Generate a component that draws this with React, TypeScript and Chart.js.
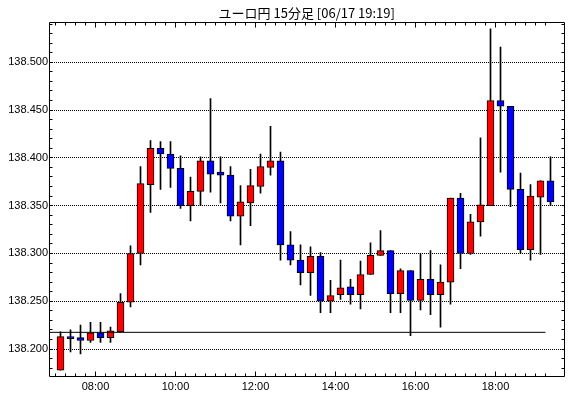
import React, { useEffect, useRef } from 'react';
import { Chart, registerables } from 'chart.js';

Chart.register(...registerables);

const TITLE = 'ユーロ円 15分足 [06/17 19:19]';

const CANDLE_TIMES = [
  '07:00', '07:15', '07:30', '07:45', '08:00', '08:15', '08:30', '08:45',
  '09:00', '09:15', '09:30', '09:45', '10:00', '10:15', '10:30', '10:45',
  '11:00', '11:15', '11:30', '11:45', '12:00', '12:15', '12:30', '12:45',
  '13:00', '13:15', '13:30', '13:45', '14:00', '14:15', '14:30', '14:45',
  '15:00', '15:15', '15:30', '15:45', '16:00', '16:15', '16:30', '16:45',
  '17:00', '17:15', '17:30', '17:45', '18:00', '18:15', '18:30', '18:45',
  '19:00', '19:15',
];

const OPEN = [
  138.178, 138.213, 138.212, 138.209, 138.217, 138.212, 138.218, 138.249,
  138.300, 138.372, 138.410, 138.404, 138.389, 138.350, 138.365, 138.397,
  138.385, 138.382, 138.339, 138.353, 138.370, 138.390, 138.397, 138.309,
  138.293, 138.280, 138.297, 138.250, 138.257, 138.265, 138.257, 138.278,
  138.298, 138.303, 138.258, 138.282, 138.251, 138.273, 138.257, 138.270,
  138.358, 138.300, 138.333, 138.350, 138.460, 138.454, 138.367, 138.304,
  138.359, 138.376,
];
const HIGH = [
  138.218, 138.220, 138.225, 138.228, 138.228, 138.223, 138.258, 138.308,
  138.391, 138.418, 138.417, 138.417, 138.402, 138.380, 138.401, 138.462,
  138.401, 138.391, 138.371, 138.388, 138.404, 138.433, 138.406, 138.323,
  138.309, 138.307, 138.301, 138.272, 138.293, 138.273, 138.292, 138.311,
  138.324, 138.303, 138.284, 138.282, 138.300, 138.303, 138.288, 138.358,
  138.363, 138.341, 138.421, 138.535, 138.516, 138.454, 138.384, 138.372,
  138.376, 138.401,
];
const LOW = [
  138.178, 138.197, 138.195, 138.207, 138.207, 138.207, 138.218, 138.244,
  138.288, 138.343, 138.367, 138.369, 138.347, 138.334, 138.350, 138.364,
  138.353, 138.334, 138.309, 138.329, 138.363, 138.382, 138.293, 138.288,
  138.267, 138.256, 138.238, 138.238, 138.252, 138.247, 138.242, 138.278,
  138.298, 138.238, 138.238, 138.214, 138.241, 138.236, 138.223, 138.247,
  138.284, 138.299, 138.318, 138.350, 138.385, 138.349, 138.300, 138.293,
  138.299, 138.350,
];
const CLOSE = [
  138.213, 138.211, 138.209, 138.217, 138.212, 138.219, 138.249, 138.300,
  138.373, 138.410, 138.404, 138.389, 138.350, 138.365, 138.397, 138.383,
  138.382, 138.339, 138.354, 138.371, 138.391, 138.397, 138.309, 138.293,
  138.280, 138.297, 138.250, 138.256, 138.264, 138.257, 138.278, 138.298,
  138.303, 138.258, 138.282, 138.251, 138.273, 138.257, 138.270, 138.358,
  138.300, 138.333, 138.351, 138.460, 138.454, 138.367, 138.304, 138.360,
  138.376, 138.354,
];

const X_TICK_LABELS = ['08:00', '10:00', '12:00', '14:00', '16:00', '18:00'];
const Y_TICK_LABELS = ['138.200', '138.250', '138.300', '138.350', '138.400', '138.450', '138.500'];

const REF_LEVEL = 138.2175;
const REF_LINE_END_TIME = '19:15';

const Y_MIN = 138.1713;
const Y_MAX = 138.5417;
const X_MIN = -1.15;
const X_MAX = 50.4;

const UP_COLOR = '#ff0000';
const DOWN_COLOR = '#0000ff';

const TICK_FONT = { family: '"Liberation Sans", Arial, sans-serif', size: 11 };

const framePlugin = {
  id: 'frameTicks',
  beforeDatasetsDraw(chart: any) {
    const { ctx, chartArea, scales } = chart;
    const y = scales.y;
    ctx.save();
    ctx.strokeStyle = '#000';
    ctx.lineWidth = 1;
    ctx.setLineDash([1, 1]);
    y.ticks.forEach((t: any) => {
      if (!Y_TICK_LABELS.includes(t.value.toFixed(3))) return;
      const py = Math.round(y.getPixelForValue(t.value) - 0.5) + 0.5;
      ctx.beginPath();
      ctx.moveTo(Math.floor(chartArea.left) + 1, py);
      ctx.lineTo(Math.floor(chartArea.right), py);
      ctx.stroke();
    });
    ctx.restore();
  },
  afterDraw(chart: any) {
    const { ctx, chartArea, scales } = chart;
    const { x, y } = scales;
    const L = Math.floor(chartArea.left) + 0.5;
    const R = Math.floor(chartArea.right) + 0.5;
    const T = Math.floor(chartArea.top) + 0.5;
    const B = Math.floor(chartArea.bottom) + 0.5;
    ctx.save();
    ctx.strokeStyle = '#000';
    ctx.lineWidth = 1;
    ctx.setLineDash([]);
    ctx.beginPath();
    ctx.rect(L, T, R - L, B - T);
    ctx.stroke();
    ctx.beginPath();
    x.ticks.forEach((t: any, i: number) => {
      const px = Math.round(x.getPixelForValue(t.value) - 0.5) + 0.5;
      const major = X_TICK_LABELS.includes(CANDLE_TIMES[i]);
      const len = major ? 5 : 3;
      ctx.moveTo(px, B);
      ctx.lineTo(px, B - len);
      ctx.moveTo(px, T);
      ctx.lineTo(px, T + len);
    });
    y.ticks.forEach((t: any) => {
      const py = Math.round(y.getPixelForValue(t.value) - 0.5) + 0.5;
      ctx.moveTo(L, py);
      ctx.lineTo(L + 3, py);
      ctx.moveTo(R, py);
      ctx.lineTo(R - 3, py);
    });
    ctx.stroke();
    ctx.restore();
  },
};

export default function App() {
  const canvasRef = useRef<HTMLCanvasElement | null>(null);

  useEffect(() => {
    document.body.style.margin = '0';
    const canvas = canvasRef.current;
    if (!canvas) return;

    const idx = CANDLE_TIMES.map((_, i) => i);
    const wickData = idx.map((i) => ({ x: i, y: [LOW[i], HIGH[i]] }));
    const bodyData = idx.map((i) => ({
      x: i,
      y: [Math.min(OPEN[i], CLOSE[i]), Math.max(OPEN[i], CLOSE[i])],
    }));
    const bodyColors = idx.map((i) => (CLOSE[i] >= OPEN[i] ? UP_COLOR : DOWN_COLOR));
    const refEnd = CANDLE_TIMES.indexOf(REF_LINE_END_TIME) - 0.5;

    const chart = new Chart(canvas, {
      type: 'bar',
      data: {
        datasets: [
          {
            type: 'line',
            data: [
              { x: X_MIN, y: REF_LEVEL },
              { x: refEnd, y: REF_LEVEL },
            ],
            borderColor: '#000',
            borderWidth: 1,
            pointRadius: 0,
            order: 0,
          } as any,
          {
            type: 'bar',
            data: bodyData,
            backgroundColor: bodyColors,
            borderColor: '#000',
            borderWidth: 1,
            borderSkipped: false,
            barThickness: 7,
            grouped: false,
            order: 1,
          } as any,
          {
            type: 'bar',
            data: wickData,
            backgroundColor: '#000',
            borderWidth: 0,
            barThickness: 1,
            grouped: false,
            order: 2,
          } as any,
        ],
      },
      options: {
        responsive: false,
        animation: false,
        devicePixelRatio: 1,
        layout: { padding: { left: 0, right: 5.5, top: 0, bottom: 0 } },
        plugins: {
          legend: { display: false },
          tooltip: { enabled: false },
          title: {
            display: true,
            text: TITLE,
            color: '#000',
            fullSize: false,
            font: { family: '"Noto Sans CJK JP", sans-serif', size: 13, weight: 'normal' },
            padding: { top: 5, bottom: 1.8 },
          },
        },
        scales: {
          x: {
            type: 'linear',
            min: X_MIN,
            max: X_MAX,
            offset: false,
            grid: { display: false, drawTicks: false },
            border: { display: false },
            afterBuildTicks: (scale: any) => {
              scale.ticks = CANDLE_TIMES.map((_, i) => ({ value: i - 0.5 }));
            },
            afterFit: (scale: any) => {
              scale.height = 21.5;
            },
            ticks: {
              autoSkip: false,
              maxRotation: 0,
              minRotation: 0,
              padding: 4,
              color: '#000',
              font: TICK_FONT,
              callback: (_v: any, i: number) =>
                X_TICK_LABELS.includes(CANDLE_TIMES[i]) ? CANDLE_TIMES[i] : '',
            },
          },
          y: {
            type: 'linear',
            min: Y_MIN,
            max: Y_MAX,
            grid: { display: false, drawTicks: false },
            border: { display: false },
            afterBuildTicks: (scale: any) => {
              const ticks = [];
              for (let k = Math.ceil(Y_MIN * 100); k <= Math.floor(Y_MAX * 100); k++) {
                ticks.push({ value: k / 100 });
              }
              scale.ticks = ticks;
            },
            afterFit: (scale: any) => {
              scale.width = 49;
            },
            ticks: {
              autoSkip: false,
              padding: 1,
              color: '#000',
              font: TICK_FONT,
              callback: (v: any) => {
                const s = Number(v).toFixed(3);
                return Y_TICK_LABELS.includes(s) ? s : '';
              },
            },
          },
        },
      } as any,
      plugins: [framePlugin],
    });

    return () => {
      chart.destroy();
    };
  }, []);

  return (
    <div style={{ width: 570, height: 398 }}>
      <canvas ref={canvasRef} width={570} height={398} style={{ display: 'block' }} />
    </div>
  );
}
